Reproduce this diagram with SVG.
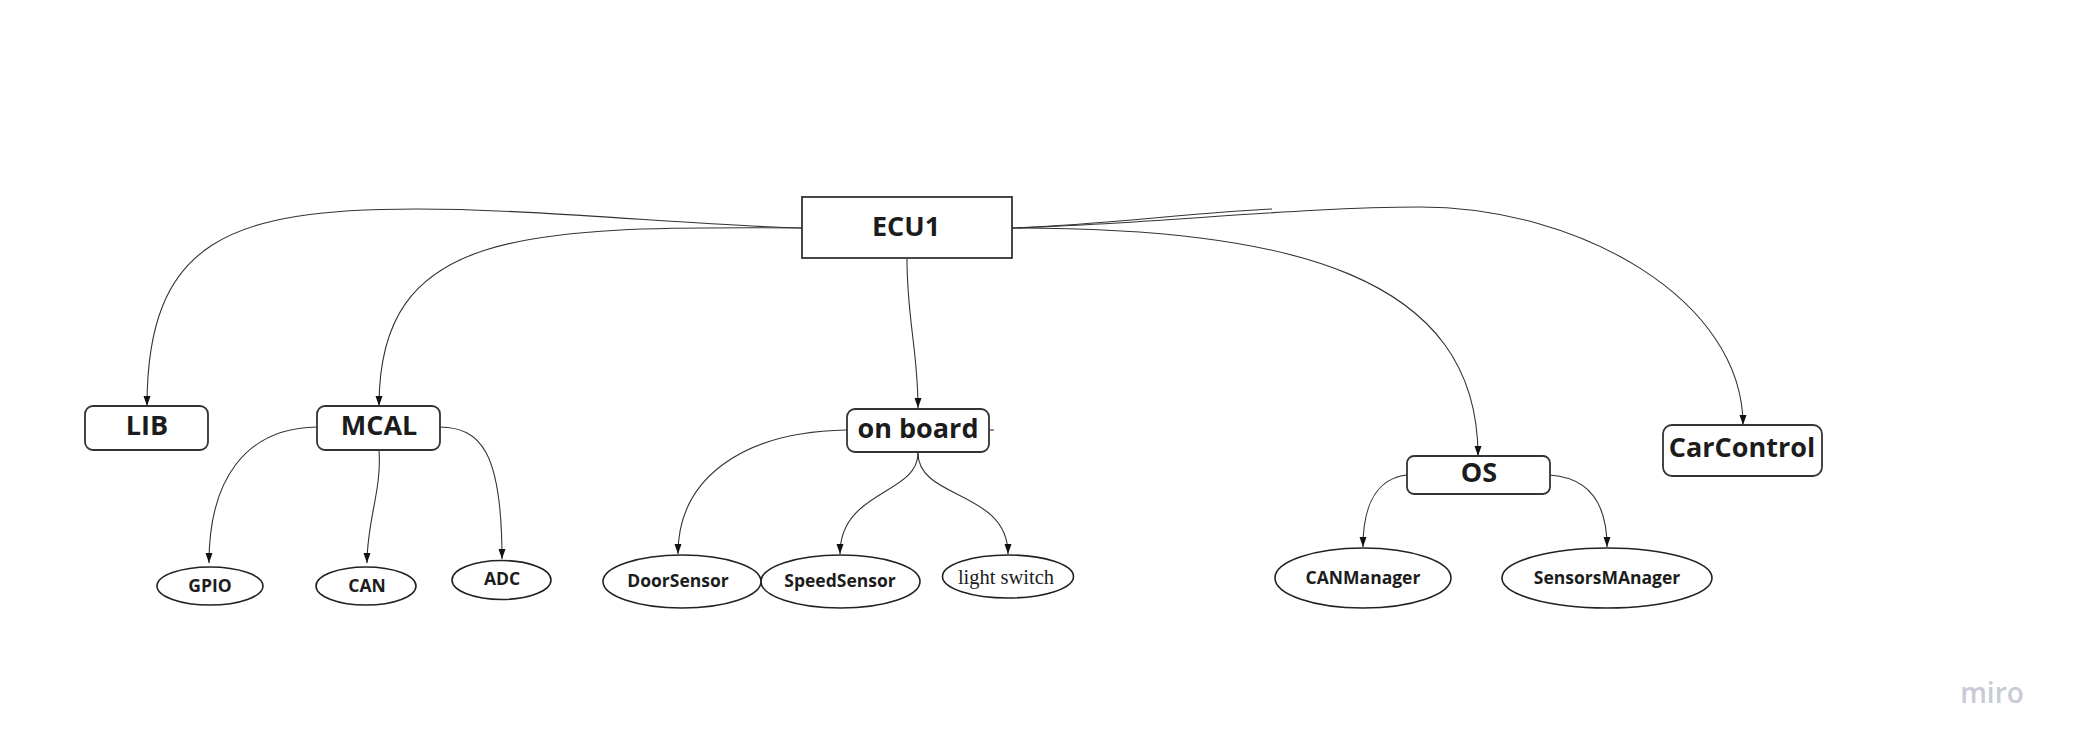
<svg xmlns="http://www.w3.org/2000/svg" width="2075" height="752" viewBox="0 0 2075 752">
<defs>
<marker id="arr" markerWidth="10" markerHeight="8" refX="10" refY="3.5" orient="auto" markerUnits="userSpaceOnUse">
<path d="M0,0 L10,3.5 L0,7 z" fill="#111"/>
</marker>
<style>
.box{fill:#fff;stroke:#333;stroke-width:1.8}
.ell{fill:#fff;stroke:#222;stroke-width:1.6}
.con{fill:none;stroke:#333;stroke-width:1.1}
.arw{marker-end:url(#arr)}
.bl{font-family:"Open Sans","Noto Sans",sans-serif;font-weight:700;font-size:27px;fill:#1c1c1c;text-anchor:middle}
.el{font-family:"Open Sans","Noto Sans",sans-serif;font-weight:700;font-size:17.5px;fill:#1c1c1c;text-anchor:middle}
.sl{font-family:"Liberation Serif","Times New Roman",serif;font-size:20.5px;fill:#1c1c1c;text-anchor:middle}
</style>
</defs>
<rect width="2075" height="752" fill="#fff"/>
<g id="connectors">
<path class="con arw" d="M802,228 C700,226 540,209 417,209 C230,209 147,240 147,406"/>
<path class="con arw" d="M802,228 C520,226 379,230 379,406"/>
<path class="con arw" d="M907,259 C907,320 918,350 918,408"/>
<path class="con arw" d="M1012,228 C1290,228 1478,275 1478,456"/>
<path class="con arw" d="M1012,228 C1150,224 1300,207 1420,207 C1580,207 1743,300 1743,425"/>
<path class="con" d="M1012,228 C1100,225 1190,213 1272,209"/>
<path class="con arw" d="M317,427 C245,428 209,480 209,563"/>
<path class="con arw" d="M379,450 C382,490 367,520 367,563"/>
<path class="con arw" d="M440,427 C480,428 502,450 502,559"/>
<path class="con arw" d="M846,430 C740,432 678,480 678,554"/>
<path class="con arw" d="M918,453 C918,495 840,490 840,554"/>
<path class="con arw" d="M918,453 C918,500 1008,490 1008,554"/>
<path class="con" d="M990,430 L994,430"/>
<path class="con arw" d="M1407,475 C1380,478 1363,500 1363,547"/>
<path class="con arw" d="M1550,475 C1590,478 1607,505 1607,547"/>
</g>
<g id="ECU1"><rect class="box" x="802" y="197" width="210" height="61"/><text class="bl" x="906" y="236">ECU1</text></g>
<g id="LIB"><rect class="box" x="85" y="406" width="123" height="44" rx="8"/><text class="bl" x="147" y="435">LIB</text></g>
<g id="MCAL"><rect class="box" x="317" y="406" width="123" height="44" rx="8"/><text class="bl" x="379" y="435">MCAL</text></g>
<g id="onboard"><rect class="box" x="847" y="409" width="142" height="43" rx="8"/><text class="bl" x="918" y="438">on board</text></g>
<g id="OS"><rect class="box" x="1407" y="456" width="143" height="38" rx="7"/><text class="bl" x="1479" y="482">OS</text></g>
<g id="CarControl"><rect class="box" x="1663" y="425" width="159" height="51" rx="9"/><text class="bl" x="1742" y="457">CarControl</text></g>
<g id="GPIO"><ellipse class="ell" cx="210" cy="586" rx="53" ry="19"/><text class="el" x="210" y="592">GPIO</text></g>
<g id="CAN"><ellipse class="ell" cx="366" cy="586" rx="50" ry="19"/><text class="el" x="367" y="592">CAN</text></g>
<g id="ADC"><ellipse class="ell" cx="501.5" cy="580" rx="49.5" ry="19.5"/><text class="el" x="502" y="585">ADC</text></g>
<g id="DoorSensor"><ellipse class="ell" cx="682" cy="581.5" rx="79" ry="26.5"/><text class="el" x="678" y="587">DoorSensor</text></g>
<g id="SpeedSensor"><ellipse class="ell" cx="840.5" cy="581.5" rx="79.5" ry="26.5"/><text class="el" x="840" y="587">SpeedSensor</text></g>
<g id="lightswitch"><ellipse class="ell" cx="1008" cy="576.5" rx="65.5" ry="21.5"/><text class="sl" x="1006" y="584">light switch</text></g>
<g id="CANManager"><ellipse class="ell" cx="1363" cy="578" rx="88" ry="30"/><text class="el" x="1363" y="584">CANManager</text></g>
<g id="SensorsMAnager"><ellipse class="ell" cx="1607" cy="578" rx="105" ry="30"/><text class="el" x="1607" y="584">SensorsMAnager</text></g>
<text x="1992" y="703" text-anchor="middle" font-family="'Open Sans','Noto Sans',sans-serif" font-weight="600" font-size="28" fill="#c8cad6">miro</text>
</svg>
